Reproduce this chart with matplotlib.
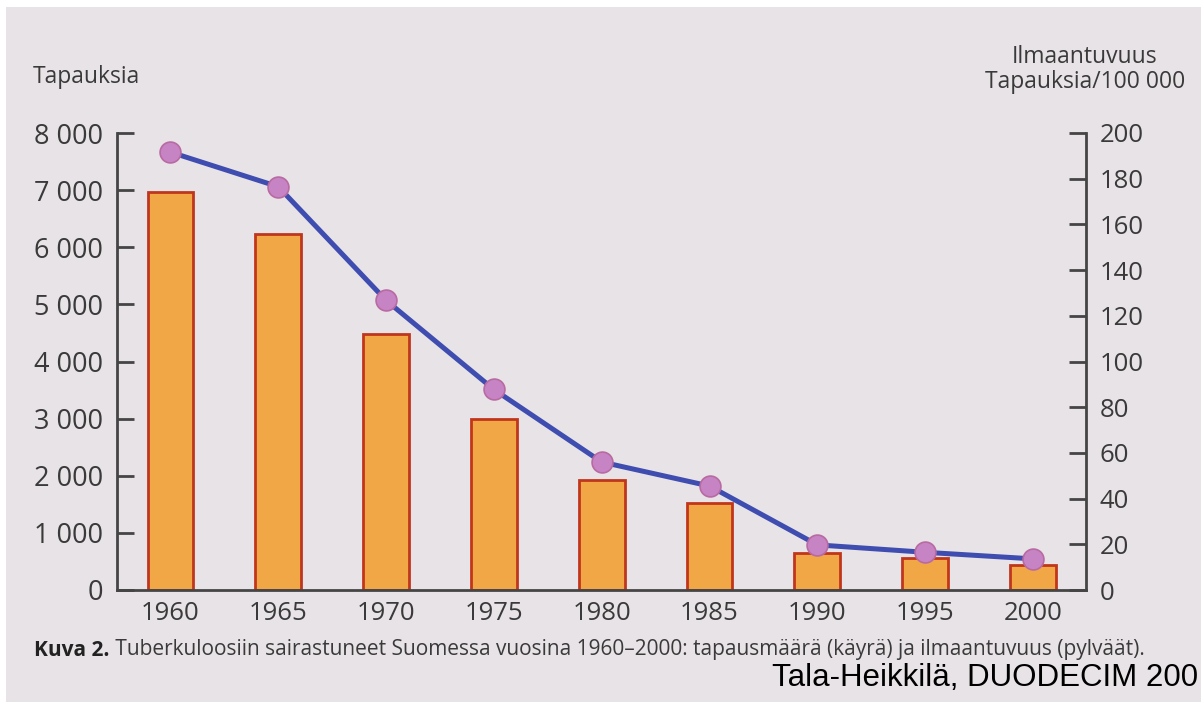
"""
Tuberculosis in Finland 1960-2000: cases (line) and incidence (bars)
"""
import matplotlib
matplotlib.use('Agg')
import matplotlib.pyplot as plt
from matplotlib.patches import Rectangle

# pylint: disable=invalid-name

years = [1960, 1965, 1970, 1975, 1980, 1985, 1990, 1995, 2000]
cases = [7665, 7060, 5070, 3510, 2240, 1820, 790, 660, 545]
incidence = [174, 156, 112, 75, 48, 38, 16, 14, 11]

left_ticks = [0, 1000, 2000, 3000, 4000, 5000, 6000, 7000, 8000]
left_labels = ['0', '1 000', '2 000', '3 000', '4 000', '5 000', '6 000',
               '7 000', '8 000']
right_ticks = [0, 20, 40, 60, 80, 100, 120, 140, 160, 180, 200]

caption_bold = 'Kuva 2.'
caption_rest = (' Tuberkuloosiin sairastuneet Suomessa vuosina 1960\u20132000: '
                'tapausmäärä (käyrä) ja ilmaantuvuus (pylväät).')
source = 'Tala-Heikkilä, DUODECIM 200'

plt.rcParams['font.family'] = ['Open Sans', 'DejaVu Sans']

W, H = 1201, 702
TXT = '#3a3a3a'
AX = '#454545'

fig = plt.figure(figsize=(W / 100, H / 100), dpi=100)
fig.patch.set_facecolor('white')
# scanned page background
fig.add_artist(Rectangle((6 / W, 0), 1, 1 - 7 / H, transform=fig.transFigure,
                         facecolor='#e8e3e6', edgecolor='none', zorder=0))

ax = fig.add_axes([117 / W, 1 - 590 / H, (1086 - 117) / W, (590 - 133) / H])
ax2 = ax.twinx()
ax.set_zorder(2)
ax2.set_zorder(1)
ax.patch.set_visible(False)
ax2.patch.set_visible(False)

# incidence bars on the right scale
ax2.bar(years, incidence, width=2.13, color='#f1a746', edgecolor='#c0361c',
        linewidth=2)
# case counts as a line on the left scale
ax.plot(years, cases, color='#3e4daf', lw=3.6, marker='o', ms=15,
        mfc='#c784c4', mec='#b86aa2', mew=1.2, zorder=3)

ax.set_xlim(1957.52, 2002.46)
ax.set_ylim(0, 8000)
ax2.set_ylim(0, 200)

ax.set_xticks(years)
ax.set_xticklabels([str(y) for y in years])
ax.set_yticks(left_ticks)
ax.set_yticklabels(left_labels)
ax2.set_yticks(right_ticks)

for s in ('top', 'right'):
    ax.spines[s].set_visible(False)
for s in ('top', 'left', 'bottom'):
    ax2.spines[s].set_visible(False)
for sp in (ax.spines['left'], ax.spines['bottom'], ax2.spines['right']):
    sp.set_color(AX)
    sp.set_linewidth(2)

ax.tick_params(axis='y', direction='in', length=12, width=2, color=AX,
               pad=10, labelsize=19.5, labelcolor=TXT)
ax.tick_params(axis='x', length=0, pad=8, labelsize=18.5, labelcolor=TXT)
ax2.tick_params(axis='y', direction='in', length=12, width=2, color=AX,
                pad=10, labelsize=18.5, labelcolor=TXT)

fig.text(33 / W, 1 - 77 / H, 'Tapauksia', fontsize=16.5, color=TXT,
         ha='left', va='center')
fig.text(1085 / W, 1 - 57 / H, 'Ilmaantuvuus', fontsize=16.5, color=TXT,
         ha='center', va='center')
fig.text(1085 / W, 1 - 82 / H, 'Tapauksia/100 000', fontsize=16.5,
         color=TXT, ha='center', va='center')

# caption: bold figure number followed by plain text
t1 = fig.text(34 / W, 1 - 650 / H, caption_bold, fontsize=15,
              fontweight='bold', color='#222222', ha='left', va='center')
fig.canvas.draw()
bb = t1.get_window_extent(renderer=fig.canvas.get_renderer())
fig.text(bb.x1 / W, 1 - 650 / H, caption_rest, fontsize=15, color=TXT,
         ha='left', va='center')

fig.text(772 / W, 1 - 678 / H, source, fontsize=22.5, color='black',
         family='Liberation Sans', ha='left', va='center')

fig.savefig('out.png', dpi=100)
